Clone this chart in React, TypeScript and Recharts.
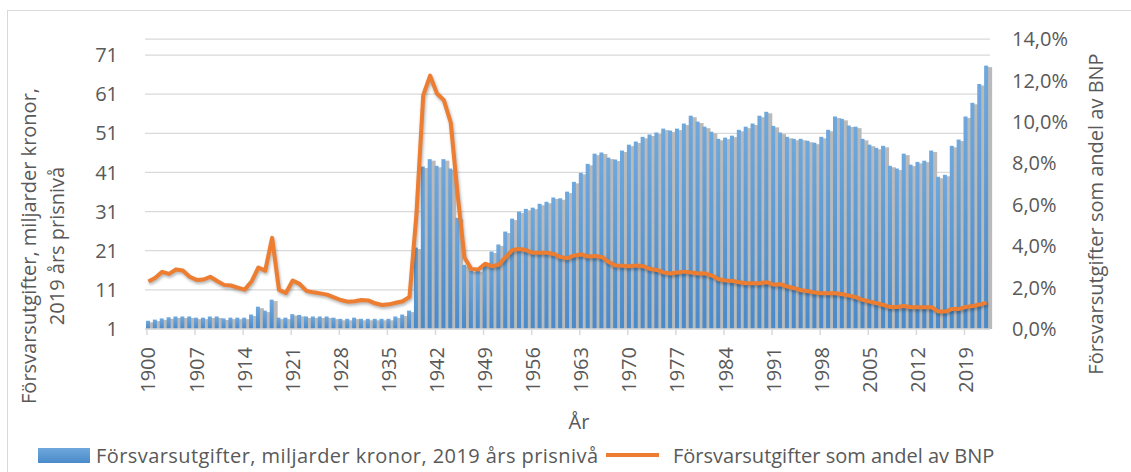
import React from "react";
import {
  ComposedChart,
  Bar,
  Line,
  XAxis,
  YAxis,
  CartesianGrid,
} from "recharts";

const years = [
  1900, 1901, 1902, 1903, 1904, 1905, 1906, 1907, 1908, 1909,
  1910, 1911, 1912, 1913, 1914, 1915, 1916, 1917, 1918, 1919,
  1920, 1921, 1922, 1923, 1924, 1925, 1926, 1927, 1928, 1929,
  1930, 1931, 1932, 1933, 1934, 1935, 1936, 1937, 1938, 1939,
  1940, 1941, 1942, 1943, 1944, 1945, 1946, 1947, 1948, 1949,
  1950, 1951, 1952, 1953, 1954, 1955, 1956, 1957, 1958, 1959,
  1960, 1961, 1962, 1963, 1964, 1965, 1966, 1967, 1968, 1969,
  1970, 1971, 1972, 1973, 1974, 1975, 1976, 1977, 1978, 1979,
  1980, 1981, 1982, 1983, 1984, 1985, 1986, 1987, 1988, 1989,
  1990, 1991, 1992, 1993, 1994, 1995, 1996, 1997, 1998, 1999,
  2000, 2001, 2002, 2003, 2004, 2005, 2006, 2007, 2008, 2009,
  2010, 2011, 2012, 2013, 2014, 2015, 2016, 2017, 2018, 2019,
  2020, 2021, 2022,
];

// miljarder kronor, 2019 års prisnivå
const spending = [
  3.1, 3.4, 3.7, 4.0, 4.2, 4.2, 4.2, 3.9, 3.9, 4.2,
  4.2, 3.7, 3.9, 3.9, 3.9, 4.7, 6.7, 5.7, 8.5, 3.9,
  3.9, 4.8, 4.6, 4.2, 4.2, 4.2, 4.2, 3.9, 3.6, 3.6,
  3.9, 3.6, 3.6, 3.6, 3.6, 3.6, 4.2, 4.7, 5.7, 21.8,
  42.5, 44.4, 42.7, 44.4, 42.0, 29.4, 17.4, 15.9, 15.9, 17.6,
  20.8, 22.6, 25.9, 29.2, 31.0, 31.7, 32.0, 33.0, 33.5, 34.6,
  34.4, 36.1, 38.6, 40.9, 43.2, 45.8, 46.1, 44.8, 44.3, 46.6,
  48.1, 48.9, 50.1, 50.7, 51.2, 52.2, 51.7, 52.2, 53.5, 55.5,
  54.0, 52.7, 51.4, 49.6, 49.9, 50.4, 51.9, 52.7, 53.5, 55.5,
  56.5, 52.9, 51.2, 50.1, 49.6, 49.6, 49.1, 48.6, 50.1, 51.9,
  55.3, 54.7, 53.0, 52.7, 49.6, 48.1, 47.3, 47.8, 42.7, 42.0,
  45.8, 43.0, 43.7, 44.0, 46.6, 39.9, 40.4, 47.8, 49.4, 55.3,
  58.8, 63.6, 68.3,
];

// procent av BNP
const share = [
  2.29, 2.47, 2.76, 2.66, 2.87, 2.82, 2.52, 2.37, 2.39, 2.52,
  2.32, 2.13, 2.1, 2.0, 1.9, 2.29, 2.97, 2.82, 4.4, 1.89,
  1.74, 2.34, 2.18, 1.84, 1.77, 1.72, 1.66, 1.53, 1.4, 1.32,
  1.34, 1.4, 1.38, 1.24, 1.16, 1.19, 1.27, 1.34, 1.55, 5.5,
  11.29, 12.23, 11.37, 11.05, 9.97, 6.5, 3.45, 2.9, 2.87, 3.15,
  3.03, 3.1, 3.47, 3.82, 3.86, 3.8, 3.68, 3.68, 3.68, 3.62,
  3.47, 3.42, 3.55, 3.6, 3.5, 3.52, 3.48, 3.23, 3.06, 3.05,
  3.03, 3.06, 3.03, 2.9, 2.85, 2.73, 2.68, 2.73, 2.77, 2.73,
  2.68, 2.69, 2.58, 2.4, 2.34, 2.32, 2.26, 2.21, 2.21, 2.21,
  2.26, 2.14, 2.16, 2.05, 1.97, 1.87, 1.82, 1.76, 1.73, 1.73,
  1.73, 1.68, 1.61, 1.53, 1.4, 1.32, 1.24, 1.16, 1.06, 1.06,
  1.11, 1.05, 1.05, 1.05, 1.05, 0.84, 0.84, 0.97, 0.97, 1.06,
  1.11, 1.18, 1.27,
];

const leftTicks = [1, 11, 21, 31, 41, 51, 61, 71];
const rightTicks = [0, 2, 4, 6, 8, 10, 12, 14];

const barName = "Försvarsutgifter, miljarder kronor, 2019 års prisnivå";
const lineName = "Försvarsutgifter som andel av BNP";

const data = years.map((year, i) => ({
  year,
  spending: spending[i],
  share: share[i],
}));

const FONT = "'Open Sans', sans-serif";
const TEXT = "#595959";

function ShadowBar(props: any) {
  const { x, y, width, height } = props;
  if (!height || height <= 0) return null;
  return (
    <g>
      <rect
        x={x + 1}
        y={y + 1.5}
        width={width + 3}
        height={height - 1.5}
        fill="#bababa"
        style={{ filter: "blur(0.7px)" }}
      />
      <rect x={x} y={y} width={width} height={height} fill="url(#barGrad)" />
    </g>
  );
}

function YearTick(props: any) {
  const { x, y, payload } = props;
  return (
    <g>
      <line x1={x - 1.5} x2={x - 1.5} y1={y} y2={y + 6} stroke="#d9d9d9" strokeWidth={1.5} />
      <text
        x={x}
        y={y + 18}
        dy="0.35em"
        transform={`rotate(-90 ${x} ${y + 18})`}
        textAnchor="end"
        fill={TEXT}
        fontSize={20}
        fontFamily={FONT}
      >
        {payload.value}
      </text>
    </g>
  );
}

const pct = (v: number) => v.toFixed(1).replace(".", ",") + "%";

export default function App() {
  return (
    <div
      style={{
        position: "absolute",
        left: 0,
        top: 0,
        width: 1131,
        height: 472,
        overflow: "hidden",
        background: "#fff",
      }}
    >
      <style>{`.recharts-line-curve { filter: drop-shadow(1px 2px 1.5px rgba(0,0,0,0.3)); }`}</style>
      <svg width={0} height={0} style={{ position: "absolute" }}>
        <defs>
          <linearGradient id="barGrad" x1="0" y1="0" x2="0" y2="1">
            <stop offset="0%" stopColor="#6fa8dd" />
            <stop offset="100%" stopColor="#4a8ac9" />
          </linearGradient>
        </defs>
      </svg>
      <div
        style={{
          position: "absolute",
          left: 7,
          top: 10,
          width: 1200,
          height: 600,
          border: "1px solid #d9d9d9",
        }}
      />
      <div style={{ position: "absolute", left: 0, top: 0 }}>
        <ComposedChart
          width={1131}
          height={472}
          data={data}
          margin={{ top: 39, right: 0, bottom: 0, left: 0 }}
          barSize={4}
        >
          <CartesianGrid
            yAxisId="left"
            vertical={false}
            stroke="#d9d9d9"
            strokeWidth={1.25}
          />
          <XAxis
            dataKey="year"
            interval={6}
            height={143}
            axisLine={{ stroke: "#d9d9d9", strokeWidth: 1.5 }}
            tickLine={false}
            tickSize={0}
            tickMargin={0}
            tick={<YearTick />}
          />
          <YAxis
            yAxisId="left"
            orientation="left"
            width={145}
            domain={[1, 75.1]}
            ticks={leftTicks}
            axisLine={false}
            tickLine={false}
            tickSize={0}
            tickMargin={27}
            tick={{ fill: TEXT, fontSize: 20, fontFamily: FONT }}
          />
          <YAxis
            yAxisId="right"
            orientation="right"
            width={141}
            domain={[0, 14]}
            ticks={rightTicks}
            tickFormatter={pct}
            axisLine={false}
            tickLine={false}
            tickSize={0}
            tickMargin={22}
            tick={{ fill: TEXT, fontSize: 20, fontFamily: FONT }}
          />
          <Bar
            yAxisId="left"
            dataKey="spending"
            name={barName}
            shape={<ShadowBar />}
            isAnimationActive={false}
          />
          <Line
            yAxisId="right"
            dataKey="share"
            name={lineName}
            type="linear"
            stroke="#ED7D31"
            strokeWidth={4}
            strokeLinejoin="round"
            dot={false}
            activeDot={false}
            isAnimationActive={false}
          />
        </ComposedChart>
      </div>
      <svg
        width={1131}
        height={472}
        style={{ position: "absolute", left: 0, top: 0, pointerEvents: "none" }}
        fontFamily={FONT}
        fill={TEXT}
      >
        <text x={29} y={246} dy="0.35em" fontSize={20} textAnchor="middle" transform="rotate(-90 29 246)">
          Försvarsutgifter, miljarder kronor,
        </text>
        <text x={57} y={246} dy="0.35em" fontSize={20} textAnchor="middle" transform="rotate(-90 57 246)">
          2019 års prisnivå
        </text>
        <text x={1096} y={214} dy="0.35em" fontSize={20} textAnchor="middle" transform="rotate(-90 1096 214)">
          {lineName}
        </text>
        <text x={579} y={422} dy="0.35em" fontSize={20} textAnchor="middle">
          År
        </text>
        <rect x={38} y={448} width={52} height={15} fill="url(#barGrad)" />
        <text x={96} y={456} dy="0.35em" fontSize={20} textLength={502} lengthAdjust="spacing">
          {barName}
        </text>
        <line x1={606} x2={659} y1={455} y2={455} stroke="#ED7D31" strokeWidth={4} />
        <text x={673} y={456} dy="0.35em" fontSize={20}>
          {lineName}
        </text>
      </svg>
    </div>
  );
}
